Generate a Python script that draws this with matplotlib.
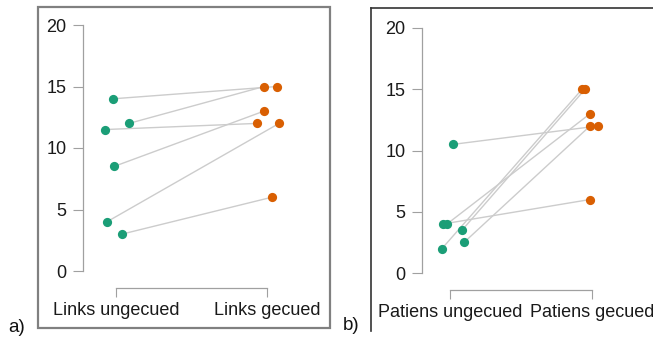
import matplotlib.pyplot as plt
from matplotlib.patches import Rectangle
from matplotlib.lines import Line2D

plt.rcParams['font.family'] = ['Liberation Sans', 'DejaVu Sans']

# data: paired values (ungecued -> gecued)
labels_a = ['Links ungecued', 'Links gecued']
ungecued_a = [14, 12, 11.5, 8.5, 4, 3]
gecued_a = [15, 15, 12, 13, 12, 6]

labels_b = ['Patiens ungecued', 'Patiens gecued']
ungecued_b = [10.5, 4, 4, 2, 3.5, 2.5]
gecued_b = [12, 6, 13, 15, 15, 12]

# horizontal jitter of the dots (in category units)
jit_a_left = [-0.02, 0.086, -0.073, -0.013, -0.06, 0.04]
jit_a_right = [0.066, -0.02, -0.066, -0.02, 0.08, 0.033]
jit_b_left = [0.021, -0.049, -0.021, -0.056, 0.085, 0.099]
jit_b_right = [0.042, -0.014, -0.014, -0.07, -0.049, -0.014]

green = '#1b9e77'
orange = '#d95f02'
W, H = 653, 338

fig = plt.figure(figsize=(W / 100, H / 100), dpi=100)


def panel(rect_px, xlim, labels, left, right, jl, jr):
    x0, x1, ytop, ybot = rect_px
    ax = fig.add_axes([x0 / W, 1 - ybot / H, (x1 - x0) / W, (ybot - ytop) / H])
    ax.patch.set_alpha(0)
    for i in range(len(left)):
        ax.plot([1 + jl[i], 2 + jr[i]], [left[i], right[i]], color='#cccccc', lw=1, zorder=1)
    ax.scatter([1 + j for j in jl], left, s=44, color=green, zorder=3, linewidths=0)
    ax.scatter([2 + j for j in jr], right, s=44, color=orange, zorder=3, linewidths=0)
    ax.set_xlim(*xlim)
    ax.set_ylim(0, 20)
    ax.set_yticks([0, 5, 10, 15, 20])
    ax.set_xticks([1, 2])
    ax.set_xticklabels(labels)
    for s in ['top', 'right']:
        ax.spines[s].set_visible(False)
    ax.spines['left'].set_bounds(0, 20)
    ax.spines['bottom'].set_bounds(1, 2)
    ax.spines['bottom'].set_position(('outward', 12))
    for s in ['left', 'bottom']:
        ax.spines[s].set_color('#a0a0a0')
        ax.spines[s].set_linewidth(0.9)
    ax.tick_params(axis='y', length=7, pad=5)
    ax.tick_params(axis='x', length=6.5, pad=4)
    ax.tick_params(colors='#a0a0a0', labelcolor='#1a1a1a', labelsize=13)
    return ax


panel((83, 325, 25, 271), (1 + (83 - 116) / 151, 1 + (325 - 116) / 151),
      labels_a, ungecued_a, gecued_a, jit_a_left, jit_a_right)
panel((422, 645, 28, 273), (1 + (422 - 450) / 142, 1 + (645 - 450) / 142),
      labels_b, ungecued_b, gecued_b, jit_b_left, jit_b_right)

# frame around panel a
fig.add_artist(Rectangle((38 / W, 1 - 328 / H), (330 - 38) / W, (328 - 7) / H,
                         transform=fig.transFigure, fill=False, ec='#808080', lw=1.6))
# frame around panel b (left and top edge only visible)
fig.add_artist(Line2D([371 / W, 371 / W], [1 - 331 / H, 1 - 8 / H],
                      transform=fig.transFigure, color='#333333', lw=1.2))
fig.add_artist(Line2D([371 / W, 1], [1 - 8 / H, 1 - 8 / H],
                      transform=fig.transFigure, color='#333333', lw=1.2))

fig.text(8 / W, 1 - 328 / H, 'a)', fontsize=13.5, va='center', ha='left', color='#111111')
fig.text(343 / W, 1 - 326 / H, 'b)', fontsize=13.5, va='center', ha='left', color='#111111')

fig.savefig('out.png', dpi=100)
